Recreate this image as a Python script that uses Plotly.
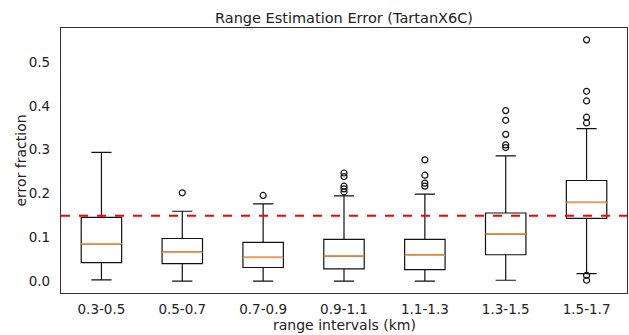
import plotly.graph_objects as go

categories = ["0.3-0.5", "0.5-0.7", "0.7-0.9", "0.9-1.1", "1.1-1.3", "1.3-1.5", "1.5-1.7"]
q1 = [0.043, 0.041, 0.032, 0.029, 0.027, 0.061, 0.144]
medians = [0.086, 0.067, 0.055, 0.058, 0.060, 0.108, 0.180]
q3 = [0.146, 0.098, 0.089, 0.096, 0.096, 0.156, 0.230]
lower_whisker = [0.004, 0.001, 0.001, 0.001, 0.001, 0.003, 0.018]
upper_whisker = [0.294, 0.160, 0.177, 0.195, 0.199, 0.286, 0.348]
outliers = [
    [],
    [0.202],
    [0.196],
    [0.247, 0.239, 0.217, 0.211, 0.204],
    [0.277, 0.242, 0.224, 0.217],
    [0.389, 0.367, 0.335, 0.311, 0.305],
    [0.550, 0.433, 0.411, 0.374, 0.361, 0.014, 0.003],
]
threshold = 0.15
yticks = [0.0, 0.1, 0.2, 0.3, 0.4, 0.5]

positions = list(range(1, len(categories) + 1))
FONT = "DejaVu Sans"
HALF = 0.25
TXT = "#222"

fig = go.Figure()
fig.add_trace(go.Box(
    x=positions, q1=q1, median=medians, q3=q3,
    lowerfence=lower_whisker, upperfence=upper_whisker,
    width=0.5, whiskerwidth=0.5,
    fillcolor="white", line=dict(color="#111", width=1.2),
    boxpoints=False, showlegend=False, hoverinfo="skip",
))

mx, my = [], []
for p, m in zip(positions, medians):
    mx += [p - HALF, p + HALF, None]
    my += [m, m, None]
fig.add_trace(go.Scatter(x=mx, y=my, mode="lines",
                         line=dict(color="#ff9a40", width=1.5),
                         showlegend=False, hoverinfo="skip"))

ox, oy = [], []
for p, vals in zip(positions, outliers):
    for v in vals:
        ox.append(p)
        oy.append(v)
fig.add_trace(go.Scatter(x=ox, y=oy, mode="markers",
                         marker=dict(symbol="circle-open", size=6, color="#111",
                                     line=dict(width=1.2)),
                         showlegend=False, hoverinfo="skip"))

fig.add_shape(type="line", xref="paper", x0=0, x1=1, yref="y", y0=threshold, y1=threshold,
              line=dict(color="red", width=2, dash="dash"))

fig.add_annotation(text="range intervals (km)", xref="paper", x=0.5, yref="paper", y=0,
                   yshift=-32, yanchor="middle", showarrow=False,
                   font=dict(family=FONT, size=14, color=TXT))
fig.add_annotation(text="error fraction", xref="paper", x=0, xshift=-41, xanchor="center",
                   yref="paper", y=0.5, textangle=-90, showarrow=False,
                   font=dict(family=FONT, size=14, color=TXT))
fig.add_annotation(text="Range Estimation Error (TartanX6C)", xref="paper", x=0.5,
                   yref="paper", y=1, yshift=10, yanchor="middle", showarrow=False,
                   font=dict(family=FONT, size=14.5, color=TXT))

fig.update_layout(
    width=629, height=335,
    margin=dict(l=61, r=2, t=28, b=42),
    paper_bgcolor="white", plot_bgcolor="white",
    font=dict(family=FONT, size=13.5, color=TXT),
)
fig.update_xaxes(
    range=[0.5, 7.5], tickvals=positions, ticktext=categories, automargin=False,
    showgrid=False, zeroline=False, showline=True, mirror=True,
    linecolor="#333", linewidth=1.2,
    ticks="outside", ticklen=4, tickcolor="rgba(0,0,0,0)",
)
fig.update_yaxes(
    range=[-0.026, 0.577], tickvals=yticks, ticktext=[f"{v:.1f}" for v in yticks],
    automargin=False,
    showgrid=False, zeroline=False, showline=True, mirror=True,
    linecolor="#333", linewidth=1.2,
    ticks="outside", ticklen=7, tickcolor="rgba(0,0,0,0)",
)

fig.write_html("out.html", config={"displayModeBar": False},
               post_script="document.body.style.margin='0';")
